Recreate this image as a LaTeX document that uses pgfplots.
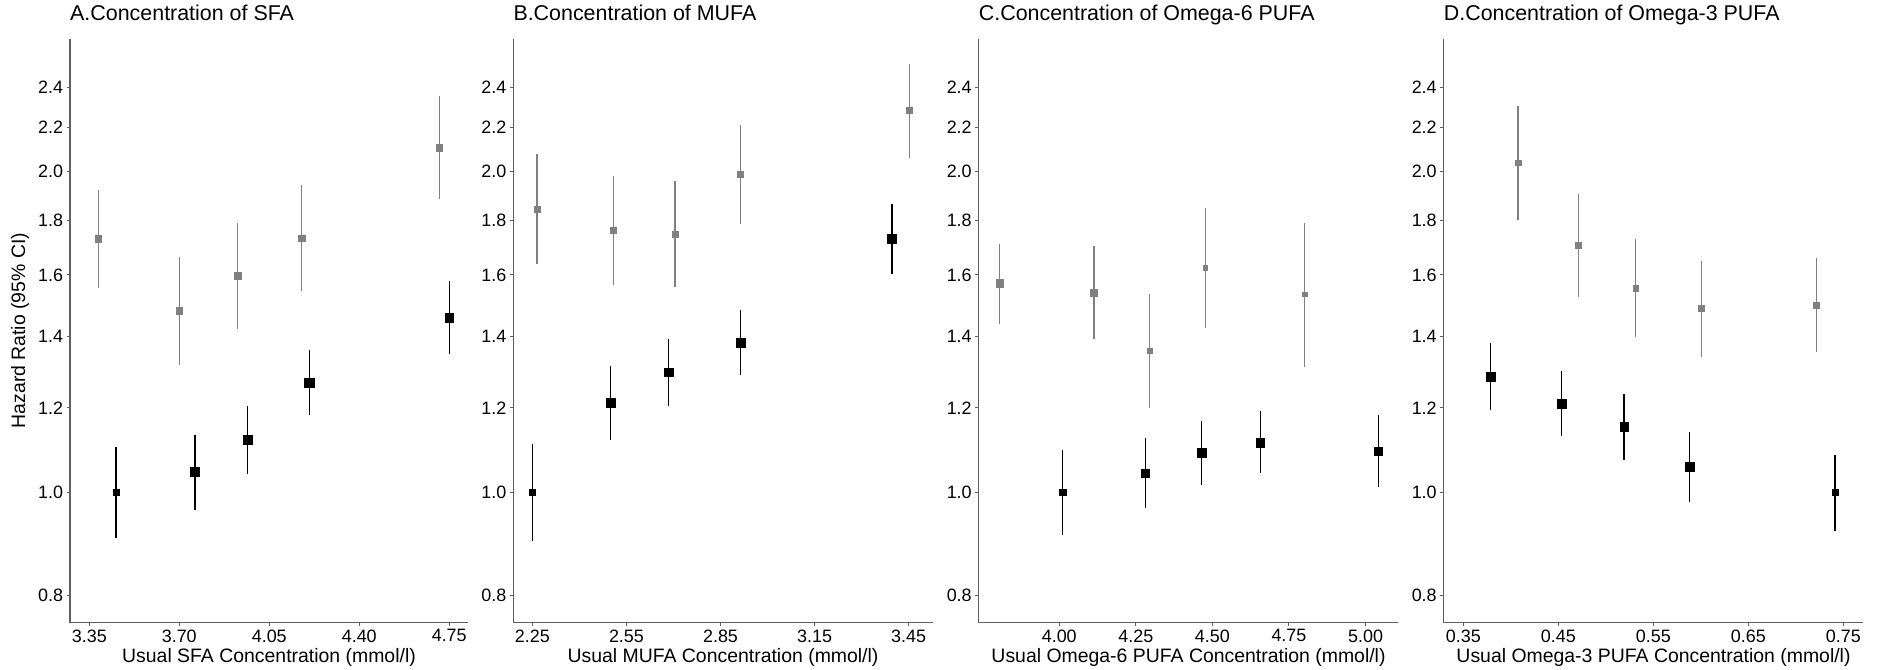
\documentclass[border=0pt]{standalone}
\usepackage{pgfplots}
\pgfplotsset{compat=1.18}
\usepackage{pgfplotstable}
\usepackage{fontspec}
\setmainfont{Liberation Sans}
\definecolor{ggray}{RGB}{128,128,128}
\definecolor{axcol}{RGB}{95,95,95}

% columns: x  y  lo  hi  s (half side of marker)
\pgfplotstableread{
x y lo hi s
3.385 1.731 1.556 1.921 3.2
3.700 1.481 1.318 1.665 3.2
3.927 1.597 1.423 1.791 3.2
4.176 1.733 1.546 1.944 3.2
4.712 2.107 1.886 2.354 3.2
}\Agray
\pgfplotstableread{
x y lo hi s
3.454 1.000 0.905 1.103 3.0
3.761 1.045 0.963 1.133 4.5
3.965 1.120 1.041 1.205 4.7
4.206 1.268 1.183 1.359 4.7
4.750 1.459 1.349 1.578 4.3
}\Ablack
\pgfplotstableread{
x y lo hi s
2.265 1.846 1.640 2.078 3.0
2.508 1.761 1.565 1.982 3.0
2.705 1.748 1.559 1.959 2.8
2.913 1.988 1.788 2.211 3.0
3.452 2.283 2.061 2.525 3.2
}\Bgray
\pgfplotstableread{
x y lo hi s
2.250 1.000 0.900 1.109 3.0
2.499 1.213 1.119 1.313 4.3
2.685 1.296 1.205 1.393 4.3
2.914 1.383 1.290 1.483 4.5
3.397 1.731 1.604 1.867 4.3
}\Bblack
\pgfplotstableread{
x y lo hi s
3.805 1.571 1.440 1.712 3.7
4.113 1.539 1.393 1.704 3.3
4.295 1.359 1.200 1.536 2.7
4.477 1.625 1.426 1.851 2.3
4.801 1.535 1.312 1.791 2.2
}\Cgray
\pgfplotstableread{
x y lo hi s
4.011 1.000 0.912 1.096 3.3
4.282 1.042 0.966 1.124 4.0
4.465 1.089 1.016 1.167 4.3
4.656 1.114 1.042 1.192 4.5
5.042 1.093 1.011 1.183 4.0
}\Cblack
\pgfplotstableread{
x y lo hi s
0.4075 2.040 1.803 2.307 2.8
0.4710 1.705 1.525 1.907 3.0
0.5314 1.556 1.398 1.731 3.0
0.6005 1.488 1.341 1.650 3.0
0.7216 1.497 1.353 1.659 3.0
}\Dgray
\pgfplotstableread{
x y lo hi s
0.3784 1.284 1.194 1.380 4.5
0.4532 1.212 1.130 1.300 4.5
0.5191 1.152 1.072 1.237 4.3
0.5880 1.057 0.979 1.140 4.3
0.7412 1.000 0.920 1.085 3.3
}\Dblack

\pgfplotsset{
  panel/.style={
    scale only axis, height=584bp,
    axis x line*=bottom, axis y line*=left,
    axis line style={axcol, line width=1.3bp},
    tick align=outside, major tick length=3.5bp,
    tick style={axcol, line width=1bp},
    ymin=0.7545, ymax=2.667,
    ytick={0.8,1.0,1.2,1.4,1.6,1.8,2.0,2.2,2.4},
    yticklabels={0.8,1.0,1.2,1.4,1.6,1.8,2.0,2.2,2.4},
    ticklabel style={font=\fontsize{18}{20}\selectfont, text=black},
    xlabel style={font=\fontsize{19.5}{22}\selectfont, at={(axis description cs:0.5,0)}, anchor=center, yshift=-35bp},
    ylabel style={font=\fontsize{19.5}{22}\selectfont, at={(axis description cs:0,0.5)}, anchor=center, yshift=50bp},
    title style={at={(axis description cs:0,1)}, anchor=base west, yshift=12.5bp, inner sep=0pt, font=\fontsize{21.5}{24}\selectfont},
    clip=false,
  },
}
\newcommand{\ser}[2]{\addplot[scatter, only marks, mark=square*,
    scatter/use mapped color={draw=#1, fill=#1},
    visualization depends on={\thisrow{s}\as\ms},
    scatter/@pre marker code/.append style={/tikz/mark size=\ms, /tikz/line width=0.2bp},
    error bars/y dir=both, error bars/y explicit, error bars/error mark=none,
    error bars/error bar style={#1, line width=1.3bp}]
  table[x=x, y=y, y error plus expr=\thisrow{hi}-\thisrow{y}, y error minus expr=\thisrow{y}-\thisrow{lo}] {#2};}

\begin{document}
\begin{tikzpicture}
\useasboundingbox (0,0) rectangle (1883bp,670bp);
\begin{axis}[panel, ymode=log, at={(70bp,47.4bp)}, anchor=south west, width=398bp,
  xmin=3.275, xmax=4.823,
  xtick={3.35,3.70,4.05,4.40,4.75}, xticklabels={3.35,3.70,4.05,4.40,4.75},
  title={A.Concentration of SFA},
  xlabel={Usual SFA Concentration (mmol/l)},
  ylabel={Hazard Ratio (95\% CI)}]
\ser{ggray}{\Agray}
\ser{black}{\Ablack}
\end{axis}
\begin{axis}[panel, ymode=log, at={(513.3bp,47.4bp)}, anchor=south west, width=419.4bp,
  xmin=2.189, xmax=3.527,
  xtick={2.25,2.55,2.85,3.15,3.45}, xticklabels={2.25,2.55,2.85,3.15,3.45},
  title={B.Concentration of MUFA},
  xlabel={Usual MUFA Concentration (mmol/l)}]
\ser{ggray}{\Bgray}
\ser{black}{\Bblack}
\end{axis}
\begin{axis}[panel, ymode=log, at={(978.7bp,47.4bp)}, anchor=south west, width=419.6bp,
  xmin=3.737, xmax=5.107,
  xtick={4.00,4.25,4.50,4.75,5.00}, xticklabels={4.00,4.25,4.50,4.75,5.00},
  title={C.Concentration of Omega-6 PUFA},
  xlabel={Usual Omega-6 PUFA Concentration (mmol/l)}]
\ser{ggray}{\Cgray}
\ser{black}{\Cblack}
\end{axis}
\begin{axis}[panel, ymode=log, at={(1443.7bp,47.4bp)}, anchor=south west, width=419.6bp,
  xmin=0.3293, xmax=0.771,
  xtick={0.35,0.45,0.55,0.65,0.75}, xticklabels={0.35,0.45,0.55,0.65,0.75},
  title={D.Concentration of Omega-3 PUFA},
  xlabel={Usual Omega-3 PUFA Concentration (mmol/l)}]
\ser{ggray}{\Dgray}
\ser{black}{\Dblack}
\end{axis}
\end{tikzpicture}
\end{document}
